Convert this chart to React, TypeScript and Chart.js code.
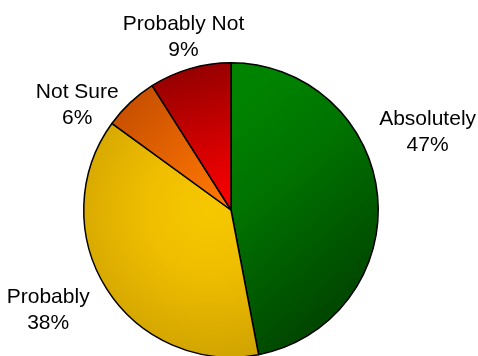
import React, { useEffect, useRef } from "react";
import { Chart, registerables } from "chart.js";

Chart.register(...registerables);

const categories = ["Absolutely", "Probably", "Not Sure", "Probably Not"];
const values = [47, 38, 6, 9];
const percentLabels = ["47%", "38%", "6%", "9%"];

// style: gradient stops (inner -> outer)
const sliceStops: string[][] = [
  ["#008400", "#007200", "#004800"],
  ["#f6c800", "#efbe00", "#cfa200"],
  ["#ff7a00", "#ee6a00", "#c85000"],
  ["#ff0000", "#d80000", "#960000"],
];
// style: gradient kind per slice
const sliceGradKind = ["diagonal", "radial", "mid", "mid"];
// style: label placement (degrees clockwise from top, distance in radii)
const labelAngle = [68, 241.7, 304.7, 344.8];
const labelDist = [1.44, 1.41, 1.27, 1.23];

const FONT = '21px "Liberation Sans", Arial, sans-serif';

const labelPlugin = {
  id: "outerLabels",
  afterDraw(chart: any) {
    const meta = chart.getDatasetMeta(0);
    const ctx = chart.ctx;
    ctx.save();
    ctx.font = FONT;
    ctx.fillStyle = "#000";
    ctx.textAlign = "center";
    ctx.textBaseline = "alphabetic";
    meta.data.forEach((arc: any, i: number) => {
      const th = (labelAngle[i] * Math.PI) / 180;
      const d = arc.outerRadius * labelDist[i];
      const cx = arc.x + Math.sin(th) * d;
      const cy = arc.y - Math.cos(th) * d;
      const b1 = cy - 5.5;
      ctx.fillText(chart.data.labels[i], cx, b1);
      ctx.fillText(percentLabels[i], cx, b1 + 26);
    });
    ctx.restore();
  },
};

export default function App() {
  const ref = useRef<HTMLCanvasElement>(null);
  useEffect(() => {
    document.body.style.margin = "0";
    const canvas = ref.current!;
    const chart = new Chart(canvas, {
      type: "pie",
      data: {
        labels: categories,
        datasets: [
          {
            data: values,
            borderColor: "#000",
            borderWidth: 1.5,
            hoverOffset: 0,
            backgroundColor: (c: any) => {
              const ch = c.chart;
              const area = ch.chartArea;
              const i = c.dataIndex;
              if (!area) return sliceStops[i][1];
              const total = values.reduce((a, b) => a + b, 0);
              let start = 0;
              for (let k = 0; k < i; k++) start += values[k];
              const mid = ((start + values[i] / 2) / total) * Math.PI * 2;
              const cx = (area.left + area.right) / 2;
              const cy = (area.top + area.bottom) / 2;
              const r = Math.min(area.width, area.height) / 2;
              const kind = sliceGradKind[i];
              let g: CanvasGradient;
              if (kind === "radial") {
                g = ch.ctx.createRadialGradient(cx - r * 0.15, cy, 0, cx - r * 0.15, cy, r * 1.05);
              } else if (kind === "diagonal") {
                g = ch.ctx.createLinearGradient(cx, cy - r * 0.7, cx + r * 0.95, cy + r * 0.45);
              } else {
                g = ch.ctx.createLinearGradient(
                  cx,
                  cy,
                  cx + Math.sin(mid) * r,
                  cy - Math.cos(mid) * r
                );
              }
              const s = sliceStops[i];
              g.addColorStop(0, s[0]);
              g.addColorStop(0.4, s[1]);
              g.addColorStop(1, s[2]);
              return g;
            },
          },
        ],
      },
      options: {
        responsive: false,
        animation: false,
        layout: { padding: { top: 62, bottom: 62, left: 83, right: 99 } },
        plugins: {
          legend: { display: false },
          tooltip: { enabled: false },
        },
      },
      plugins: [labelPlugin],
    });
    return () => chart.destroy();
  }, []);
  return (
    <div
      style={{
        position: "fixed",
        left: 0,
        top: 0,
        width: 478,
        height: 356,
        overflow: "hidden",
        background: "#fff",
      }}
    >
      <canvas ref={ref} width={478} height={420} style={{ display: "block" }} />
    </div>
  );
}
